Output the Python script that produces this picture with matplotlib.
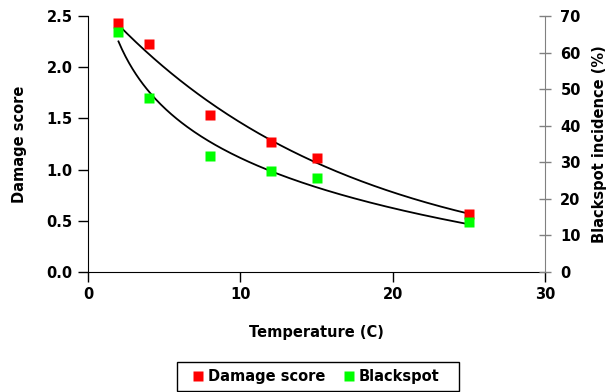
import matplotlib.pyplot as plt
from matplotlib.patches import Rectangle
import numpy as np

# values
temperature = [2, 4, 8, 12, 15, 25]
damage_score = [2.43, 2.23, 1.53, 1.27, 1.11, 0.57]
blackspot_pct = [65.6, 47.6, 31.7, 27.6, 25.7, 13.7]

plt.rcParams["font.family"] = ["DejaVu Sans"]
plt.rcParams["font.weight"] = "bold"
FS = 10.5

fig = plt.figure(figsize=(6.09, 3.92), dpi=100)
ax = fig.add_axes([0.1445, 0.306, 0.7505, 0.653])
ax2 = ax.twinx()

x = np.array(temperature, dtype=float)
xs = np.linspace(x.min(), x.max(), 200)

# exponential trend for damage score, log trend for blackspot (Excel style)
b, ln_a = np.polyfit(x, np.log(damage_score), 1)
ax.plot(xs, np.exp(ln_a) * np.exp(b * xs), color="black", lw=1.3, zorder=2)
k, c = np.polyfit(np.log(x), blackspot_pct, 1)
ax2.plot(xs, k * np.log(xs) + c, color="black", lw=1.3, zorder=2)

ax.plot(x, damage_score, "s", color="#ff0000", ms=6.5, mec="none", zorder=3,
        label="Damage score")
ax2.plot(x, blackspot_pct, "s", color="#00ff00", ms=6.5, mec="none", zorder=3,
         label="Blackspot")

ax.set_xlim(0, 30)
ax.set_ylim(0, 2.5)
ax2.set_ylim(0, 70)
ax.set_xticks([0, 10, 20, 30])
ax.set_yticks(np.arange(0, 2.51, 0.5))
ax.set_yticklabels([f"{v:.1f}" for v in np.arange(0, 2.51, 0.5)])
ax2.set_yticks(range(0, 71, 10))

for a in (ax, ax2):
    a.spines["top"].set_visible(False)
ax.spines["right"].set_visible(False)
ax2.spines["left"].set_visible(False)
ax2.spines["bottom"].set_visible(False)
ax2.spines["right"].set_color("#808080")
ax.tick_params(axis="both", direction="out", length=7, width=1, labelsize=FS, pad=4)
ax2.tick_params(axis="y", direction="inout", length=8, width=1, color="#808080",
                labelsize=FS, pad=7)

ax.set_ylabel("Damage score", fontsize=FS, fontweight="bold", labelpad=14)
ax2.set_ylabel("Blackspot incidence (%)", fontsize=FS, fontweight="bold", labelpad=8)
ax.set_xlabel("Temperature (C)", fontsize=FS, fontweight="bold", labelpad=16)

h1, l1 = ax.get_legend_handles_labels()
h2, l2 = ax2.get_legend_handles_labels()
leg = fig.legend(h1 + h2, l1 + l2, loc="center", bbox_to_anchor=(0.52, 0.039),
                 ncol=2, fontsize=FS, frameon=False, handlelength=0.6,
                 handletextpad=0.4, columnspacing=1.3, borderpad=0.4)
# legend box drawn a bit wider than matplotlib's own frame
fig.patches.append(Rectangle((177 / 609, 1 / 392), 282 / 609, 29 / 392,
                             transform=fig.transFigure, fill=False,
                             edgecolor="black", lw=1))

fig.savefig("out.png", dpi=100)
